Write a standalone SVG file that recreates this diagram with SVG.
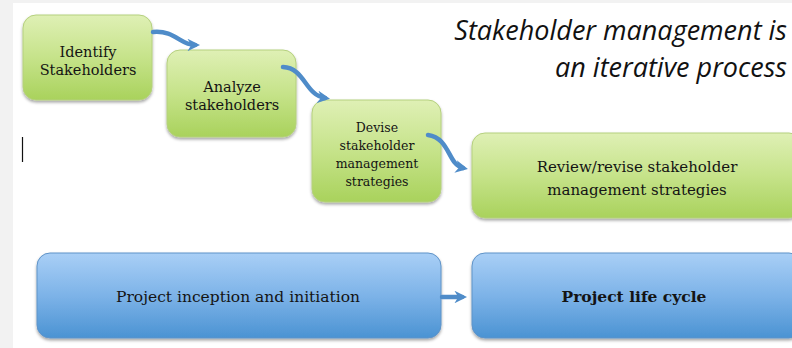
<svg xmlns="http://www.w3.org/2000/svg" width="792" height="348" viewBox="0 0 792 348">
<defs>
<linearGradient id="gg" x1="0" y1="0" x2="0" y2="1">
<stop offset="0" stop-color="#dff0b5"/>
<stop offset="0.5" stop-color="#c6e38a"/>
<stop offset="1" stop-color="#a9d25c"/>
</linearGradient>
<linearGradient id="bg" x1="0" y1="0" x2="0" y2="1">
<stop offset="0" stop-color="#a9cff6"/>
<stop offset="0.5" stop-color="#7db3e8"/>
<stop offset="1" stop-color="#4b93d3"/>
</linearGradient>
<filter id="sh" x="-10%" y="-10%" width="120%" height="130%">
<feDropShadow dx="0" dy="2" stdDeviation="1.5" flood-color="#000" flood-opacity="0.35"/>
</filter>
<marker id="ah" viewBox="0 0 10 10" refX="6" refY="5" markerWidth="2.8" markerHeight="2.8" orient="auto" markerUnits="strokeWidth">
<path d="M0,0 L10,5 L0,10 L3,5 Z" fill="#4f8cc9"/>
</marker>
</defs>
<style>
.g{fill:url(#gg);stroke:#b5d07e;stroke-width:1;filter:url(#sh)}
.b{fill:url(#bg);stroke:#5f93c8;stroke-width:1;filter:url(#sh)}
.t{font-family:"DejaVu Serif","Liberation Serif",serif;fill:#141414;text-anchor:middle}
.c{fill:none;stroke:#4f8cc9;stroke-width:4.5;stroke-linecap:round}
.h{font-family:"Open Sans","Noto Sans",sans-serif;font-style:italic;font-size:27px;fill:#111;text-anchor:end}
</style>
<rect x="0" y="0" width="792" height="348" fill="#ffffff"/>
<rect x="0" y="0" width="13" height="348" fill="#f2f2f2"/>
<rect x="0" y="0" width="792" height="3" fill="#f2f2f2"/>
<line x1="22.5" y1="137" x2="22.5" y2="162" stroke="#111" stroke-width="1.2"/>
<text class="h" x="787" y="40">Stakeholder management is</text>
<text class="h" x="787" y="77">an iterative process</text>
<g id="n1"><rect class="g" x="23" y="15" width="129" height="85" rx="13"/>
<text class="t" font-size="14.5" x="88" y="57">Identify</text>
<text class="t" font-size="14.5" x="88" y="75">Stakeholders</text></g>
<g id="n2"><rect class="g" x="167" y="50" width="129" height="87" rx="13"/>
<text class="t" font-size="14.5" x="232" y="92">Analyze</text>
<text class="t" font-size="14.5" x="232" y="110">stakeholders</text></g>
<g id="n3"><rect class="g" x="312" y="100" width="129" height="102" rx="13"/>
<text class="t" font-size="12.5" x="377" y="132">Devise</text>
<text class="t" font-size="12.5" x="377" y="150">stakeholder</text>
<text class="t" font-size="12.5" x="377" y="168">management</text>
<text class="t" font-size="12.5" x="377" y="186">strategies</text></g>
<g id="n4"><rect class="g" x="472" y="133" width="330" height="85" rx="13"/>
<text class="t" font-size="15" x="637" y="172">Review/revise stakeholder</text>
<text class="t" font-size="15" x="637" y="195">management strategies</text></g>
<g id="n5"><rect class="b" x="37" y="253" width="404" height="85" rx="13"/>
<text class="t" font-size="15.5" x="238" y="302">Project inception and initiation</text></g>
<g id="n6"><rect class="b" x="472" y="253" width="330" height="85" rx="13"/>
<text class="t" font-size="15.5" font-weight="bold" x="634" y="302">Project life cycle</text></g>
<g id="connectors">
<path class="c" d="M153,32 C175,30 180,45 195,45" marker-end="url(#ah)"/>
<path class="c" d="M283,67 C305,68 305,95 325,98" marker-end="url(#ah)"/>
<path class="c" d="M428,135 C450,138 448,165 463,168" marker-end="url(#ah)"/>
<path class="c" d="M442,297 L462,297" marker-end="url(#ah)"/>
</g>
</svg>
